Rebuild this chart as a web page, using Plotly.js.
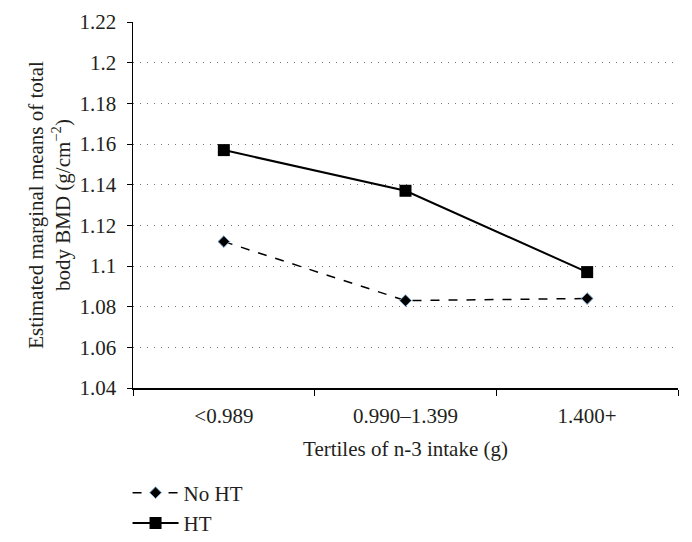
<!DOCTYPE html>
<html>
<head>
<meta charset="utf-8">
<script src="https://cdn.plot.ly/plotly-3.0.1.min.js"></script>
<style>html,body{margin:0;padding:0;background:#fff;}#chart{width:692px;height:542px;}</style>
</head>
<body>
<div id="chart"></div>
<script>
const categories = ["<0.989", "0.990\u20131.399", "1.400+"];
const noHT = [1.112, 1.083, 1.084];
const HT = [1.157, 1.137, 1.097];
const seriesNames = ["No HT", "HT"];
const yTicks = [1.04, 1.06, 1.08, 1.1, 1.12, 1.14, 1.16, 1.18, 1.2, 1.22];

const font = "'Liberation Serif', 'Times New Roman', serif";
const txt = "#231f20";

const traces = [
  {
    x: categories, y: noHT, name: seriesNames[0], type: "scatter", mode: "lines+markers",
    line: {color: "#000", width: 1.5, dash: "dash"},
    marker: {symbol: "diamond", size: 9, color: "#000", line: {color: "#7fa8d0", width: 1}}
  },
  {
    x: categories, y: HT, name: seriesNames[1], type: "scatter", mode: "lines+markers",
    line: {color: "#000", width: 2},
    marker: {symbol: "square", size: 12, color: "#000"}
  }
];

const layout = {
  width: 692, height: 542,
  margin: {l: 133, r: 14, t: 22, b: 154, autoexpand: false},
  paper_bgcolor: "#fff", plot_bgcolor: "#fff",
  font: {family: font, size: 20, color: txt},
  showlegend: true,
  legend: {x: -0.01, y: -0.425, xanchor: "left", yanchor: "bottom", orientation: "v",
           itemwidth: 46,
           font: {family: font, size: 21, color: txt}, bgcolor: "rgba(0,0,0,0)"},
  xaxis: {
    type: "category", range: [-0.5, 2.5], tickson: "boundaries",
    ticks: "outside", ticklen: 6, tickcolor: "#000", tickwidth: 1,
    ticklabelstandoff: 8,
    showline: true, linecolor: "#000", linewidth: 1.5,
    showgrid: false, zeroline: false,
    tickfont: {family: font, size: 21, color: txt},
    title: {text: "Tertiles of n-3 intake (g)", font: {family: font, size: 21, color: txt}, standoff: 14}
  },
  yaxis: {
    range: [1.04, 1.22], tickvals: yTicks, ticktext: yTicks.map(String),
    ticks: "outside", ticklen: 5, tickcolor: "#000", tickwidth: 1,
    ticklabelstandoff: 6,
    showline: true, linecolor: "#000", linewidth: 1.5,
    showgrid: true, gridcolor: "#777", griddash: "1px,6px", gridwidth: 1,
    zeroline: false,
    tickfont: {family: font, size: 21, color: txt},
    title: {text: "Estimated marginal means of total<br>body BMD (g/cm<sup>\u22122</sup>)", font: {family: font, size: 21, color: txt}, standoff: 3}
  }
};

Plotly.newPlot("chart", traces, layout, {displayModeBar: false, staticPlot: true});
</script>
</body>
</html>
